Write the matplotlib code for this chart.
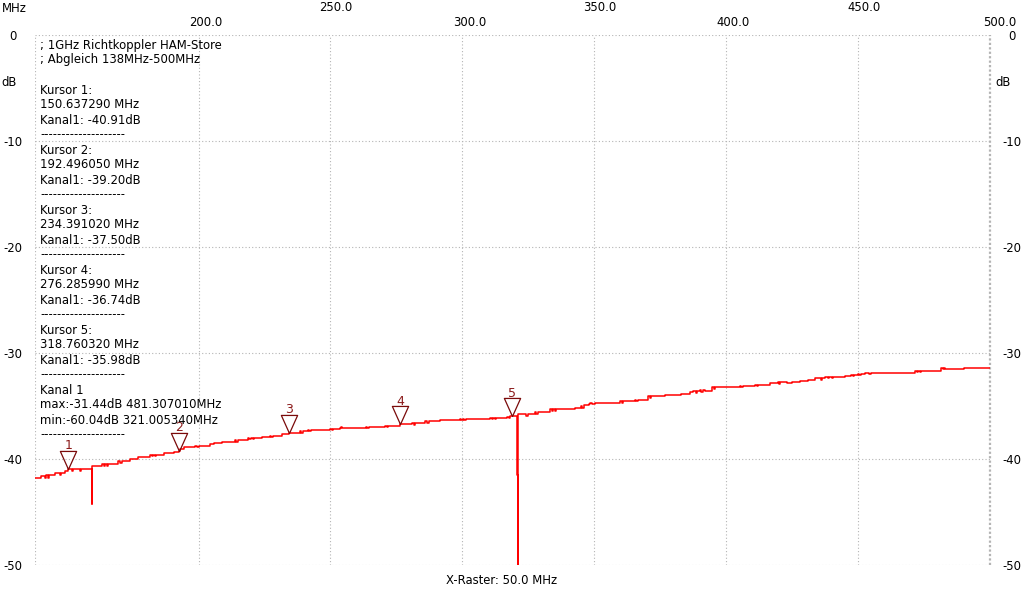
import matplotlib
matplotlib.use("Agg")
import matplotlib.pyplot as plt

# Messkurve (Frequenz in MHz, Pegel in dB)
freq_mhz = [
    138.0, 140.3, 141.8, 142.3, 142.8, 143.3, 144.5, 145.6, 147.6, 147.8,
    149.4, 150.6, 152.0, 152.3, 155.0, 155.3, 159.6, 159.7, 163.4, 164.0,
    164.6, 165.2, 165.8, 169.5, 170.2, 170.8, 174.0, 177.0, 181.6, 182.2,
    182.8, 183.4, 184.0, 187.0, 190.5, 192.5, 193.0, 194.5, 198.7, 199.3,
    200.0, 204.3, 206.0, 209.0, 213.8, 214.3, 214.8, 218.7, 219.3, 219.9,
    220.5, 221.1, 224.0, 227.0, 227.6, 228.2, 231.6, 234.4, 238.5, 239.0,
    239.5, 241.5, 242.0, 242.5, 249.8, 250.4, 251.0, 253.5, 254.0, 254.5,
    261.2, 263.5, 264.0, 264.5, 270.7, 271.3, 271.9, 276.3, 281.0, 281.6,
    282.2, 286.0, 286.6, 287.2, 291.5, 299.0, 299.6, 300.2, 300.8, 301.4,
    310.5, 311.1, 311.7, 312.3, 312.9, 317.0, 317.5, 318.0, 318.8, 320.8,
    320.9, 321.0, 323.7, 324.3, 324.9, 327.5, 328.0, 328.5, 333.2, 333.8,
    334.4, 335.0, 335.6, 342.7, 345.0, 345.5, 346.0, 348.0, 348.5, 349.0,
    350.3, 359.8, 360.4, 361.0, 365.4, 366.0, 366.6, 370.4, 371.0, 371.6,
    376.8, 383.0, 386.3, 387.5, 388.5, 389.0, 390.0, 390.6, 391.2, 391.8,
    394.6, 395.2, 395.8, 405.2, 405.8, 406.4, 410.9, 411.5, 412.1, 416.6,
    419.5, 420.0, 420.5, 422.3, 422.9, 425.0, 428.0, 431.0, 433.7, 436.0,
    436.5, 437.5, 438.5, 439.0, 440.0, 440.5, 445.0, 447.5, 448.0, 448.5,
    450.0, 450.5, 451.0, 452.6, 454.0, 455.0, 471.6, 472.2, 472.8, 473.4,
    474.0, 481.3, 482.0, 482.5, 483.0, 485.0, 490.0, 500.0,
]
pegel_db = [
    -41.75, -41.6, -41.75, -41.55, -41.75, -41.55, -41.5, -41.35, -41.5, -41.35,
    -41.1, -40.95, -41.15, -40.95, -41.15, -40.95, -44.2, -40.7, -40.5, -40.65,
    -40.5, -40.65, -40.5, -40.2, -40.35, -40.2, -40.0, -39.85, -39.6, -39.75,
    -39.6, -39.75, -39.6, -39.4, -39.3, -39.2, -39.05, -38.85, -38.75, -38.9,
    -38.75, -38.6, -38.5, -38.4, -38.2, -38.35, -38.2, -38.0, -38.15, -38.0,
    -38.15, -38.0, -37.95, -37.8, -37.95, -37.8, -37.6, -37.5, -37.35, -37.5,
    -37.35, -37.3, -37.4, -37.3, -37.2, -37.3, -37.2, -37.1, -37.0, -37.1,
    -37.05, -36.95, -37.1, -36.95, -36.85, -37.0, -36.85, -36.74, -36.6, -36.75,
    -36.6, -36.45, -36.6, -36.45, -36.35, -36.25, -36.35, -36.25, -36.35, -36.25,
    -36.1, -36.2, -36.1, -36.2, -36.1, -36.0, -36.1, -35.98, -35.9, -41.5,
    -60.04, -35.8, -35.75, -35.9, -35.75, -35.6, -35.75, -35.6, -35.3, -35.45,
    -35.3, -35.45, -35.3, -35.2, -35.0, -35.2, -34.9, -34.85, -34.7, -34.85,
    -34.7, -34.55, -34.7, -34.55, -34.4, -34.55, -34.4, -34.1, -34.25, -34.1,
    -33.95, -33.9, -33.7, -33.6, -33.75, -33.6, -33.5, -33.65, -33.5, -33.6,
    -33.25, -33.4, -33.25, -33.1, -33.25, -33.1, -33.0, -33.15, -33.0, -32.85,
    -32.75, -32.9, -32.75, -32.7, -32.85, -32.75, -32.6, -32.55, -32.4, -32.5,
    -32.4, -32.25, -32.35, -32.25, -32.4, -32.25, -32.15, -32.05, -32.2, -32.05,
    -31.95, -32.1, -31.95, -31.85, -31.95, -31.85, -31.7, -31.8, -31.7, -31.8,
    -31.7, -31.44, -31.55, -31.45, -31.55, -31.5, -31.45, -31.45,
]

# Kursoren
kursor_nr = ["1", "2", "3", "4", "5"]
kursor_mhz = [150.637290, 192.496050, 234.391020, 276.285990, 318.760320]
kursor_db = [-40.91, -39.20, -37.50, -36.74, -35.98]

x_grid = [138, 200, 250, 300, 350, 400, 450, 500]
x_labels_low = [200.0, 300.0, 400.0, 500.0]
x_labels_high = [250.0, 350.0, 450.0]
y_ticks = [0, -10, -20, -30, -40, -50]

info_lines = [
    "; 1GHz Richtkoppler HAM-Store",
    "; Abgleich 138MHz-500MHz",
    "",
]
for n, f, d in zip(kursor_nr, kursor_mhz, kursor_db):
    info_lines += [f"Kursor {n}:", f"{f:.6f} MHz", f"Kanal1: {d:.2f}dB", "-" * 20]
info_lines += [
    "Kanal 1",
    "max:-31.44dB 481.307010MHz",
    "min:-60.04dB 321.005340MHz",
    "-" * 20,
]

FS = 8.4
W, H = 1025, 600
fig = plt.figure(figsize=(W / 100, H / 100), dpi=100)
ax = fig.add_axes([35 / W, 35 / H, 955 / W, 530 / H])
ax.set_xlim(138, 500)
ax.set_ylim(-50, 0)
for s in ax.spines.values():
    s.set_visible(False)

grid_col = "#b4b4b4"
ax.set_xticks(x_grid)
ax.set_xticklabels([])
ax.set_yticks(y_ticks)
ax.set_yticklabels([str(v) for v in y_ticks])
ax.tick_params(axis="x", length=0)
ax.tick_params(axis="y", length=0, labelsize=FS, labelright=True)
for t in ax.yaxis.get_major_ticks():
    t.label1.set_horizontalalignment("center")
    t.label2.set_horizontalalignment("center")
    t.set_pad(16)
ax.grid(True, linestyle=(0, (1, 2)), color=grid_col, linewidth=0.8)
ax.axvline(500, color=grid_col, linestyle=(0, (1, 1)), linewidth=1.6, clip_on=False)

# Messkurve
ax.plot(freq_mhz, pegel_db, color="#ff0000", linewidth=1.1, drawstyle="steps-post", zorder=3)

# Kursor-Dreiecke, Spitze auf dem Messpunkt
tri = [(0, 0), (-0.45, 1), (0.45, 1), (0, 0)]
ax.plot(kursor_mhz, kursor_db, linestyle="none", marker=tri, markersize=26,
        markerfacecolor="none", markeredgecolor="#7a0a0a", markeredgewidth=0.9, zorder=4)
for n, f, d in zip(kursor_nr, kursor_mhz, kursor_db):
    ax.annotate(n, (f, d), xytext=(0, 16.5), textcoords="offset points",
                ha="center", va="center", fontsize=9, color="#8b1a1a")

# obere Achsenbeschriftung in zwei Reihen
for v in x_labels_low:
    ax.annotate(f"{v:.1f}", (v, 1), xycoords=("data", "axes fraction"),
                xytext=(5 if v < 500 else 7, 9), textcoords="offset points",
                ha="center", va="center", fontsize=FS)
for v in x_labels_high:
    ax.annotate(f"{v:.1f}", (v, 1), xycoords=("data", "axes fraction"),
                xytext=(4, 19.5), textcoords="offset points",
                ha="center", va="center", fontsize=FS)

fig.text(2 / W, 1 - 8 / H, "MHz", ha="left", va="center", fontsize=FS)
fig.text(9 / W, 1 - 83 / H, "dB", ha="center", va="center", fontsize=FS)
fig.text(1003 / W, 1 - 83 / H, "dB", ha="center", va="center", fontsize=FS)
fig.text(502 / W, 1 - 580 / H, "X-Raster: 50.0 MHz", ha="center", va="center", fontsize=FS)

for i, line in enumerate(info_lines):
    fig.text(40 / W, 1 - (45 + 15 * i) / H, line, ha="left", va="center", fontsize=FS)

fig.savefig("out.png", dpi=100)
